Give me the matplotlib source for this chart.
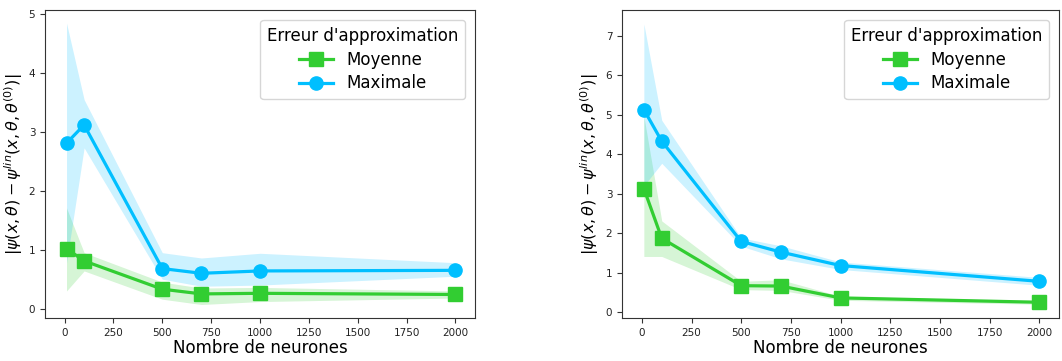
import matplotlib
matplotlib.use("Agg")
import matplotlib.pyplot as plt
import numpy as np

# %% data
neurones = [10, 100, 500, 700, 1000, 2000]

# left panel
moy_L = [1.02, 0.81, 0.33, 0.25, 0.26, 0.24]
moy_L_lo = [0.30, 0.64, 0.16, 0.07, 0.12, 0.18]
moy_L_hi = [1.71, 0.95, 0.45, 0.35, 0.36, 0.30]
max_L = [2.81, 3.12, 0.68, 0.60, 0.64, 0.65]
max_L_lo = [0.78, 2.73, 0.50, 0.38, 0.40, 0.55]
max_L_hi = [4.85, 3.55, 0.95, 0.86, 0.94, 0.78]

# right panel
moy_R = [3.13, 1.87, 0.67, 0.66, 0.36, 0.25]
moy_R_lo = [1.41, 1.41, 0.57, 0.55, 0.30, 0.20]
moy_R_hi = [4.96, 2.31, 0.78, 0.82, 0.40, 0.28]
max_R = [5.13, 4.33, 1.79, 1.52, 1.18, 0.78]
max_R_lo = [3.20, 3.77, 1.67, 1.35, 1.08, 0.68]
max_R_hi = [7.30, 4.86, 1.88, 1.68, 1.27, 0.88]

xticks = [0, 250, 500, 750, 1000, 1250, 1500, 1750, 2000]

GREEN = "#32CD32"
BLUE = "#00BFFF"

# %% plotting
fig = plt.figure(figsize=(10.62, 3.61), dpi=100)
ax1 = fig.add_axes([0.0424, 0.119, 0.4049, 0.853])
ax2 = fig.add_axes([0.5857, 0.119, 0.4115, 0.853])

panels = [
    (ax1, moy_L, moy_L_lo, moy_L_hi, max_L, max_L_lo, max_L_hi, [0, 1, 2, 3, 4, 5]),
    (ax2, moy_R, moy_R_lo, moy_R_hi, max_R, max_R_lo, max_R_hi, [0, 1, 2, 3, 4, 5, 6, 7]),
]

for ax, moy, moy_lo, moy_hi, mx, mx_lo, mx_hi, yticks in panels:
    ax.fill_between(neurones, moy_lo, moy_hi, color=GREEN, alpha=0.2, linewidth=0)
    ax.fill_between(neurones, mx_lo, mx_hi, color=BLUE, alpha=0.2, linewidth=0)
    ax.plot(neurones, moy, "-s", color=GREEN, lw=2.3, markersize=9.5, label="Moyenne")
    ax.plot(neurones, mx, "-o", color=BLUE, lw=2.3, markersize=9.5, label="Maximale")

    ax.set_xticks(xticks)
    ax.set_yticks(yticks)
    ax.tick_params(labelsize=7.5, colors="#333333", labelcolor="#222222")
    for sp in ax.spines.values():
        sp.set_color("#333333")

    ax.set_xlabel("Nombre de neurones", fontsize=12, labelpad=1)
    ax.set_ylabel(r"$|\psi(x,\theta)-\psi^{lin}(x,\theta,\theta^{(0)})|$", fontsize=11.5, labelpad=3)

    leg = ax.legend(title="Erreur d'approximation", fontsize=12, title_fontsize=12,
                    loc="upper right", borderaxespad=0.6, labelspacing=0.35)

ax1.set_xlim(-100, 2100)
ax2.set_xlim(-100, 2100)
ax1.set_ylim(-0.16, 5.07)
ax2.set_ylim(-0.15, 7.65)

fig.savefig("out.png", dpi=100)
